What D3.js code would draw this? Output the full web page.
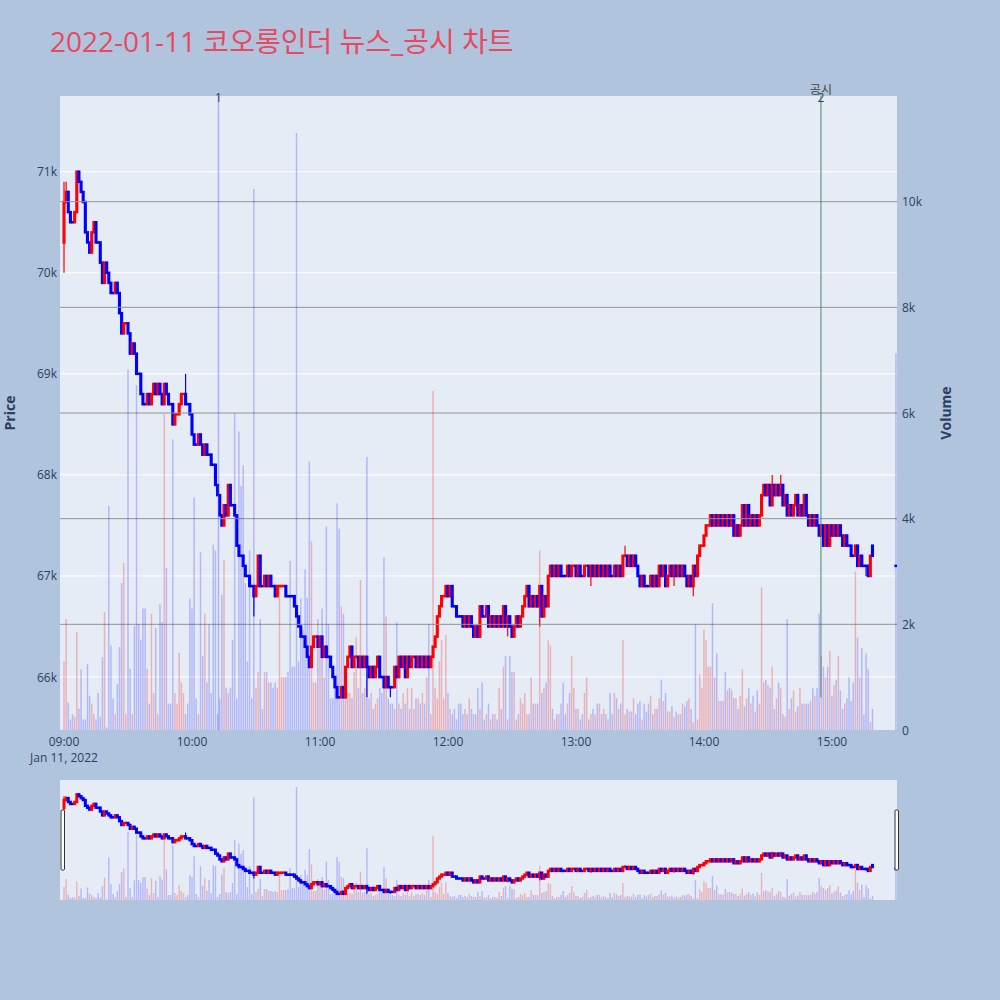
<!DOCTYPE html>
<html><head><meta charset="utf-8">
<script src="https://cdn.jsdelivr.net/npm/d3@7"></script>
<style>body{margin:0;background:#b0c4de;} svg{display:block;font-family:"Open Sans","Noto Sans CJK KR",sans-serif;}</style>
</head><body><svg id="c" width="1000" height="1000"></svg>
<script>
const titleText = "2022-01-11 코오롱인더 뉴스_공시 차트";
const PRICE_UNIT = 100; // prices below are in units of 100 won
// 1-minute candles 09:00 .. 15:19, last entry = 15:30 closing auction
const openH = [
703,707,708,706,705,705,706,710,709,708, 707,704,703,702,704,705,703,703,701,699,
701,700,699,698,698,699,698,696,694,695, 695,694,692,693,692,690,690,688,687,687,
688,687,688,689,688,689,688,687,689,688, 687,687,685,686,686,687,688,688,687,687,
686,684,683,683,684,683,682,683,682,682, 681,681,679,678,676,675,677,676,679,677,
677,676,673,672,672,671,670,670,669,669, 668,669,672,669,669,670,669,670,669,669,
668,669,669,669,669,668,668,668,668,667, 666,665,664,664,663,662,661,663,664,664,
663,664,662,663,662,662,661,660,659,658, 658,659,658,661,662,663,661,662,662,661,
662,661,662,661,660,661,660,661,662,660, 660,659,660,659,659,659,661,660,662,661,
662,660,662,661,662,662,661,662,661,662, 661,662,661,662,663,664,666,667,668,668,
669,668,669,667,667,666,666,666,665,666, 665,666,665,664,665,664,667,666,666,667,
665,666,665,666,665,666,665,667,665,666, 665,664,665,666,665,666,667,668,669,667,
668,667,668,667,669,666,668,667,670,671, 670,671,670,671,670,670,670,671,670,671,
671,670,671,670,670,671,671,670,671,670, 671,670,671,670,671,670,671,670,670,671,
670,671,670,672,672,671,672,671,672,671, 670,669,670,669,669,669,670,669,670,669,
671,670,671,669,670,671,670,671,670,671, 670,671,670,669,670,669,671,670,672,673,
673,674,675,675,676,675,676,675,676,675, 676,675,676,675,676,674,675,674,675,677,
675,677,675,676,675,676,675,676,678,679, 678,679,677,679,678,679,678,679,677,678,
676,677,676,677,678,676,677,676,678,676, 675,676,675,676,675,674,675,673,675,673,
675,674,675,674,675,674,673,674,673,673, 672,672,673,671,672,671,671,671,670,673,
671];
const closeH = [
707,708,706,705,705,706,710,709,708,707, 704,703,702,704,705,703,703,701,699,701,
700,699,698,698,699,698,696,694,695,695, 694,692,693,692,690,690,688,687,687,688,
687,688,689,688,689,688,687,689,688,687, 687,685,686,686,687,688,688,687,687,686,
684,683,683,684,683,682,683,682,682,681, 681,679,678,676,675,677,676,679,677,677,
676,673,672,672,671,670,670,669,669,668, 669,672,669,669,670,669,670,669,669,668,
669,669,669,669,668,668,668,668,667,666, 665,664,664,663,662,661,663,664,664,663,
664,662,663,662,662,661,660,659,658,658, 659,658,661,662,663,661,662,662,661,662,
661,662,661,660,661,660,661,662,660,660, 659,660,659,659,659,661,660,662,661,662,
660,662,661,662,662,661,662,661,662,661, 662,661,662,663,664,666,667,668,668,669,
668,669,667,667,666,666,666,665,666,665, 666,665,664,665,664,667,666,666,667,665,
666,665,666,665,666,665,667,665,666,665, 664,665,666,665,666,667,668,669,667,668,
667,668,667,669,666,668,667,670,671,670, 671,670,671,670,670,670,671,670,671,671,
670,671,670,670,671,671,670,671,670,671, 670,671,670,671,670,671,670,670,671,670,
671,670,672,672,671,672,671,672,671,670, 669,670,669,669,669,670,669,670,669,671,
670,671,669,670,671,670,671,670,671,670, 671,670,669,670,669,671,670,672,673,673,
674,675,675,676,675,676,675,676,675,676, 675,676,675,676,674,675,674,675,677,675,
677,675,676,675,676,675,676,678,679,678, 679,677,679,678,679,678,679,677,678,676,
677,676,677,678,676,677,676,678,676,675, 676,675,676,675,674,675,673,675,673,675,
674,675,674,675,674,673,674,673,673,672, 672,673,671,672,671,671,671,670,672,672,
671];
// wicks beyond the body: [candle index, price]
const highWicks = [[0,709],[1,709],[57,690],[223,669],[263,673],[332,680],[336,680]];
const lowWicks = [[0,700],[89,666],[142,658],[153,658],[208,664],[210,664],[223,665],[247,669],[286,669],[295,668],[376,670]];
// volume (shares)
const volume = [
1300,2100,520,200,300,250,1850,400,1150,200, 200,1250,650,500,300,200,700,250,1380,2230,
50,4240,1600,600,300,870,1570,2780,3160,300, 6820,1160,300,1970,6530,2000,1710,2300,2300,1160,
500,2200,700,1930,300,2380,2040,5980,3070,500, 500,5500,700,500,1460,900,700,300,500,2490,
2300,4400,600,300,3370,1400,2200,900,2000,700, 3510,3400,300,600,2560,3220,800,700,800,1700,
6000,600,5650,4620,5010,2780,1300,3400,600,10240, 800,1100,2100,400,1100,1100,900,900,800,900,
800,2740,1000,1000,1000,1100,3200,1200,1200,11300, 1300,2490,1900,3040,2500,5080,3570,900,900,2100,
1700,2300,1000,3850,2000,600,600,800,4290,3810, 2340,2200,700,700,700,600,1100,1750,800,2840,
700,800,5170,600,700,400,500,600,800,700, 3270,2150,600,500,500,400,2040,500,400,700,
500,800,400,800,400,600,600,500,700,500, 1000,2000,300,6420,800,600,1300,1700,600,1800,
700,400,300,400,200,500,500,300,400,300, 600,400,300,300,800,400,900,200,300,500,
200,300,300,200,800,400,1200,1400,200,1400, 1100,1100,200,300,600,500,700,300,300,1000,
500,500,500,3400,700,800,900,1700,1600,400, 200,300,300,500,900,300,500,700,1400,800,
400,400,200,300,700,1000,200,300,400,300, 500,500,300,400,300,200,700,300,700,600,
400,500,1700,300,400,350,350,600,300,500, 550,200,500,350,500,650,300,400,400,600,
950,550,700,350,350,450,250,350,300,300, 500,450,550,600,400,150,2000,200,1050,800,
1900,1700,1200,1200,2400,1000,1450,550,550,550, 1100,750,800,750,600,600,400,650,1150,450,
600,800,500,650,350,750,500,2700,900,950, 850,800,1200,400,600,900,800,300,250,2100,
400,600,750,350,450,800,500,500,500,500, 550,800,650,800,2200,1400,1200,1000,1200,1500,
650,850,950,1400,750,400,500,600,1000,550, 900,3000,1750,1000,1550,300,1450,1150,150,400,
7130];
const priceTicks = [66000,67000,68000,69000,70000,71000];
const volumeTicks = [0,2000,4000,6000,8000,10000];
const timeTicks = ["09:00","10:00","11:00","12:00","13:00","14:00","15:00"];
const newsMarks = [{time:"10:12:25", label:"1", name:""},{time:"14:54:50", label:"2", name:"공시"}];
const closingAuction = "15:30";

const svg = d3.select("#c");
const PL=60, PR=897, PT=96, PB=730, ST=780, SB=900;
const INC="#ff0000", DEC="#0000ff";
const day = (hm) => { const [h,m,s] = hm.split(":").map(Number); return new Date(2022,0,11,h,m,s||0); };
const t0 = day("09:00");
const data = closeH.map((c,i)=>{
  const t = (i === closeH.length-1) ? day(closingAuction) : new Date(t0.getTime()+i*60000);
  const o = openH[i]*PRICE_UNIT, cc = c*PRICE_UNIT;
  return {t, o, c:cc, h:Math.max(o,cc), l:Math.min(o,cc), v:volume[i]};
});
highWicks.forEach(([i,p])=>data[i].h=p*PRICE_UNIT);
lowWicks.forEach(([i,p])=>data[i].l=p*PRICE_UNIT);
let inc=true, cPrev=null;
data.forEach(d=>{ if(d.c===d.o){ if(cPrev!==null && d.c!==cPrev) inc = d.c>cPrev; } else inc = d.c>d.o; d.inc=inc; cPrev=d.c; });

const x = d3.scaleTime().domain([new Date(t0.getTime()-1.875*60000), new Date(t0.getTime()+390.5*60000)]).range([PL,PR]);
const yP = d3.scaleLinear().domain([65476,71749]).range([PB,PT]);
const yV = d3.scaleLinear().domain([0,12000]).range([PB,PT]);
const yPs = d3.scaleLinear().domain([65476,71749]).range([SB,ST]);
const yVs = d3.scaleLinear().domain([0,12000]).range([SB,ST]);

svg.append("rect").attr("width",1000).attr("height",1000).attr("fill","#b0c4de");
const tt = svg.append("text").attr("x",50).attr("y",41).attr("dominant-baseline","central")
  .attr("font-size",28).attr("fill","#e8495f").text(titleText);
const tw = tt.node().getComputedTextLength();
if (Math.abs(tw-467) > 4) tt.attr("textLength",467).attr("lengthAdjust","spacingAndGlyphs");

const defs = svg.append("defs");
defs.append("clipPath").attr("id","cp").append("rect").attr("x",PL).attr("y",PT).attr("width",PR-PL).attr("height",PB-PT);
defs.append("clipPath").attr("id","cs").append("rect").attr("x",PL).attr("y",ST).attr("width",PR-PL).attr("height",SB-ST);

svg.append("rect").attr("x",PL).attr("y",PT).attr("width",PR-PL).attr("height",PB-PT).attr("fill","#e5ecf6");
const main = svg.append("g").attr("clip-path","url(#cp)");
main.selectAll("line.pg").data(priceTicks).join("line").attr("class","pg")
  .attr("x1",PL).attr("x2",PR).attr("y1",d=>yP(d)).attr("y2",d=>yP(d)).attr("stroke","#fff").attr("stroke-width",1);

function drawCandles(g, yS, bw, minH){
  g.selectAll("line.wk").data(data).join("line").attr("class","wk")
    .attr("x1",d=>x(d.t)).attr("x2",d=>x(d.t)).attr("y1",d=>yS(d.h)).attr("y2",d=>yS(d.l))
    .attr("stroke",d=>d.inc?INC:DEC).attr("stroke-width",1.2);
  g.selectAll("rect.bd").data(data).join("rect").attr("class","bd")
    .attr("x",d=>x(d.t)-bw/2).attr("width",bw)
    .attr("y",d=>yS(Math.max(d.o,d.c))-minH/2)
    .attr("height",d=>Math.abs(yS(d.o)-yS(d.c))+minH)
    .attr("fill",d=>d.inc?INC:DEC);
}
function drawVolume(g, yS, bw){
  g.selectAll("rect.vb").data(data).join("rect").attr("class","vb")
    .attr("x",d=>x(d.t)-bw/2).attr("width",bw)
    .attr("y",d=>yS(d.v)).attr("height",d=>yS(0)-yS(d.v))
    .attr("fill",d=>d.inc?"rgba(255,0,0,0.25)":"rgba(0,0,255,0.22)");
}
drawCandles(main.append("g"), yP, 3.1, 2.5);
main.selectAll("line.vg").data(volumeTicks.filter(v=>v>0)).join("line").attr("class","vg")
  .attr("x1",PL).attr("x2",PR).attr("y1",d=>yV(d)).attr("y2",d=>yV(d)).attr("stroke","#939393").attr("stroke-width",1);
drawVolume(main.append("g"), yV, 1.5);

// news / disclosure markers
newsMarks.forEach((n,i)=>{
  const xx = x(day(n.time));
  svg.append("line").attr("x1",xx).attr("x2",xx).attr("y1",PT)
    .attr("y2", i===0 ? PB : yP(65800))
    .attr("stroke", i===0 ? "rgba(60,80,255,0.35)" : "rgba(70,130,100,0.65)").attr("stroke-width",1.5);
  svg.append("text").attr("x",xx).attr("y",97).attr("text-anchor","middle").attr("dominant-baseline","central")
    .attr("font-size",12).attr("fill","#2a3f5f").text(n.label);
  if(n.name) svg.append("text").attr("x",xx).attr("y",89).attr("text-anchor","middle").attr("dominant-baseline","central")
    .attr("font-size",12).attr("fill","#444").text(n.name);
});

// axes labels
const tc = "#2a3f5f";
svg.selectAll("text.pt").data(priceTicks).join("text").attr("class","pt")
  .attr("x",57).attr("y",d=>yP(d)).attr("text-anchor","end").attr("dominant-baseline","central")
  .attr("font-size",12).attr("fill",tc).text(d=>d3.format("~s")(d));
svg.selectAll("text.vt").data(volumeTicks).join("text").attr("class","vt")
  .attr("x",902).attr("y",d=>yV(d)).attr("text-anchor","start").attr("dominant-baseline","central")
  .attr("font-size",12).attr("fill",tc).text(d=>d===0?"0":d3.format("~s")(d));
svg.selectAll("text.xt").data(timeTicks).join("text").attr("class","xt")
  .attr("x",d=>x(day(d))).attr("y",741).attr("text-anchor","middle").attr("dominant-baseline","central")
  .attr("font-size",12).attr("fill",tc).text(d=>d);
svg.append("text").attr("x",x(day(timeTicks[0]))).attr("y",757).attr("text-anchor","middle").attr("dominant-baseline","central")
  .attr("font-size",12).attr("fill",tc).text("Jan 11, 2022");
svg.append("text").attr("transform","translate(9,413) rotate(-90)").attr("text-anchor","middle").attr("dominant-baseline","central")
  .attr("font-size",14).attr("font-weight","bold").attr("fill",tc).text("Price");
svg.append("text").attr("transform","translate(945,413) rotate(-90)").attr("text-anchor","middle").attr("dominant-baseline","central")
  .attr("font-size",14).attr("font-weight","bold").attr("fill",tc).text("Volume");

// range slider
svg.append("rect").attr("x",PL).attr("y",ST).attr("width",PR-PL).attr("height",SB-ST).attr("fill","#e5ecf6");
const sl = svg.append("g").attr("clip-path","url(#cs)");
drawCandles(sl.append("g"), yPs, 3, 2.5);
drawVolume(sl.append("g"), yVs, 1.4);
[PL+1, PR-2].forEach(hx=>{
  svg.append("rect").attr("x",hx).attr("y",810).attr("width",3.5).attr("height",60).attr("rx",1)
    .attr("fill","#fff").attr("stroke","#333").attr("stroke-width",1);
});
</script></body></html>
